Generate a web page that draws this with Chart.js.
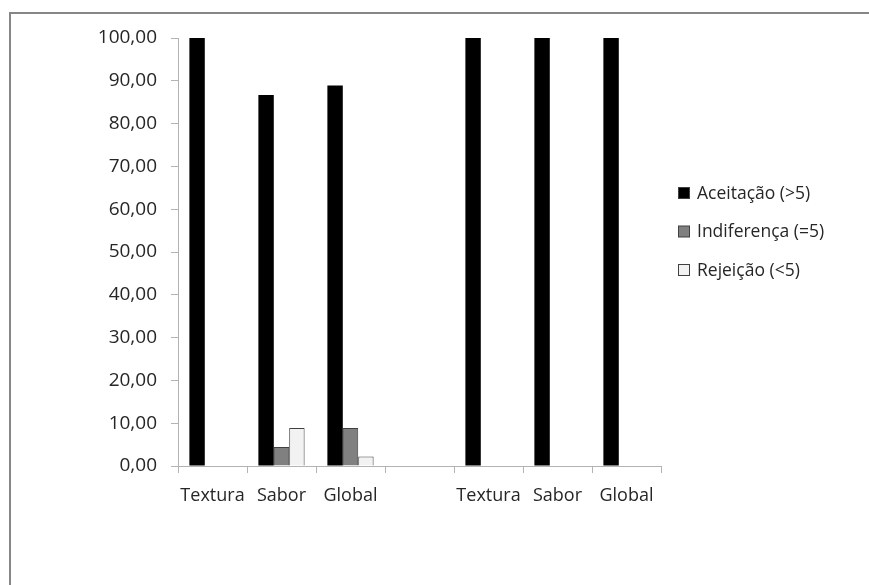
<!DOCTYPE html>
<html>
<head>
<meta charset="utf-8">
<script src="https://cdn.jsdelivr.net/npm/chart.js@4"></script>
<style>
  html, body { margin: 0; padding: 0; background: #fff; }
  #wrap { position: absolute; left: 0; top: 0; width: 869px; height: 585px; }
</style>
</head>
<body>
<div id="wrap"><canvas id="grafico" width="869" height="585"></canvas></div>
<script>
// Dados
const categorias = ['Textura', 'Sabor', 'Global', '', 'Textura', 'Sabor', 'Global'];
const aceitacao   = [100, 86.67, 88.89, null, 100, 100, 100];
const indiferenca = [0, 4.44, 8.89, null, 0, 0, 0];
const rejeicao    = [0, 8.89, 2.22, null, 0, 0, 0];
const ticksY = [0, 10, 20, 30, 40, 50, 60, 70, 80, 90, 100];

const FONTE = '"Open Sans", Lato, sans-serif';
const COR_TEXTO = '#262626';
const fmt = (v) => v.toFixed(2).replace('.', ',');

// Moldura (só topo e esquerda, como no recorte original)
const moldura = {
  id: 'moldura',
  beforeDraw(chart) {
    const c = chart.ctx;
    c.save();
    c.strokeStyle = '#868686';
    c.lineWidth = 2;
    c.beginPath();
    c.moveTo(10, 585); c.lineTo(10, 13); c.lineTo(869, 13);
    c.stroke();
    c.restore();
  }
};

// Legenda desenhada à mão
const legenda = {
  id: 'legenda',
  afterDraw(chart) {
    const c = chart.ctx;
    c.save();
    c.font = '17.5px ' + FONTE;
    c.textBaseline = 'middle';
    chart.data.datasets.forEach((ds, i) => {
      const y = 193 + i * 38.5;
      c.fillStyle = ds.backgroundColor;
      c.fillRect(678.5, y - 5.5, 11, 11);
      c.strokeStyle = '#404040';
      c.lineWidth = 1;
      c.strokeRect(678.5, y - 5.5, 11, 11);
      c.fillStyle = COR_TEXTO;
      c.fillText(ds.label, 697, y + 1);
    });
    c.restore();
  }
};

const ctx = document.getElementById('grafico').getContext('2d');
new Chart(ctx, {
  type: 'bar',
  data: {
    labels: categorias,
    datasets: [
      { label: 'Aceitação (>5)', data: aceitacao, backgroundColor: '#000000', borderColor: '#000000', borderWidth: 0 },
      { label: 'Indiferença (=5)', data: indiferenca, backgroundColor: '#808080', borderColor: '#404040', borderWidth: 1 },
      { label: 'Rejeição (<5)', data: rejeicao, backgroundColor: '#f2f2f2', borderColor: '#404040', borderWidth: 1 }
    ]
  },
  plugins: [moldura, legenda],
  options: {
    responsive: false,
    animation: false,
    layout: { padding: { left: 78, right: 208, top: 38, bottom: 79 } },
    datasets: { bar: { categoryPercentage: 0.67, barPercentage: 1.0, borderSkipped: 'start' } },
    plugins: { legend: { display: false }, tooltip: { enabled: false } },
    scales: {
      x: {
        afterFit: (s) => { s.height = 40; },
        grid: { offset: true, drawOnChartArea: false, drawTicks: true, tickLength: 7, color: '#b3b3b3' },
        border: { color: '#b3b3b3', width: 1 },
        ticks: { color: COR_TEXTO, font: { family: FONTE, size: 18 }, padding: 12, maxRotation: 0 }
      },
      y: {
        min: 0, max: 100,
        afterFit: (s) => { s.width = 100; },
        afterBuildTicks: (s) => { s.ticks = ticksY.map(v => ({ value: v })); },
        grid: { drawOnChartArea: false, drawTicks: true, tickLength: 7, color: '#b3b3b3' },
        border: { color: '#b3b3b3', width: 1 },
        ticks: { color: COR_TEXTO, font: { family: FONTE, size: 19 }, padding: 14, callback: (v) => fmt(v) }
      }
    }
  }
});
</script>
</body>
</html>
